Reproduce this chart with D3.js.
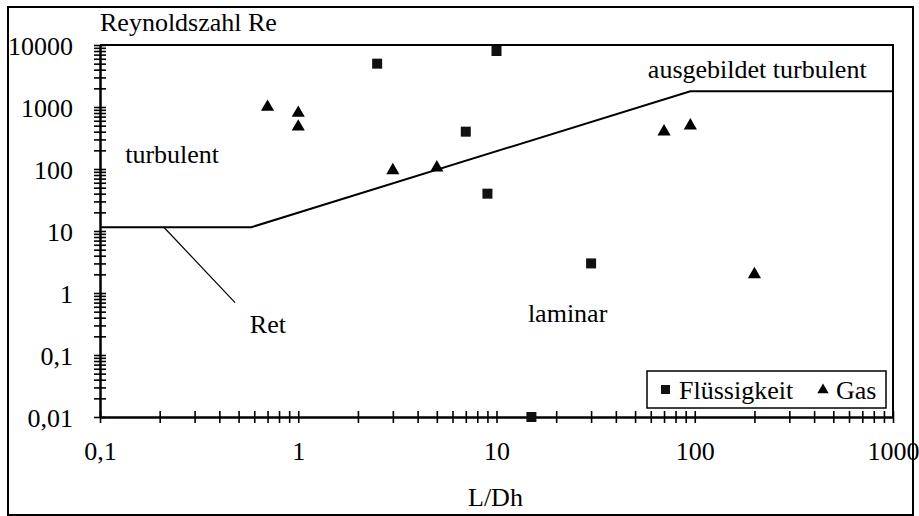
<!DOCTYPE html>
<html>
<head>
<meta charset="utf-8">
<script src="https://cdn.jsdelivr.net/npm/d3@7"></script>
<style>
 body { margin: 0; background: #fff; }
 text { font-family: "Liberation Serif", "Times New Roman", serif; fill: #000; }
</style>
</head>
<body>
<script>
const width = 919;
const height = 516;

// data
const fluessigkeit = [
 {x: 2.5, y: 5000},
 {x: 10, y: 8000},
 {x: 7, y: 400},
 {x: 9, y: 40},
 {x: 30, y: 3},
 {x: 15, y: 0.01}
];
const gas = [
 {x: 0.7, y: 1000},
 {x: 1, y: 800},
 {x: 1, y: 480},
 {x: 3, y: 95},
 {x: 5, y: 105},
 {x: 70, y: 400},
 {x: 95, y: 500},
 {x: 200, y: 2}
];
// boundary line Ret
const retLine = [
 {x: 0.1, y: 11.5},
 {x: 0.58, y: 11.5},
 {x: 95, y: 1800},
 {x: 1000, y: 1800}
];
// pointer from the "Ret" label to the line
const retPointer = [
 {x: 0.21, y: 11.5},
 {x: 0.48, y: 0.7}
];
const xTicks = [0.1, 1, 10, 100, 1000];
const xTickLabels = ["0,1", "1", "10", "100", "1000"];
const yTicks = [0.01, 0.1, 1, 10, 100, 1000, 10000];
const yTickLabels = ["0,01", "0,1", "1", "10", "100", "1000", "10000"];
const regionLabels = [
 {text: "turbulent", x: 0.134, y: 125},
 {text: "ausgebildet turbulent", x: 58, y: 2900},
 {text: "laminar", x: 14.4, y: 0.34},
 {text: "Ret", x: 0.57, y: 0.23}
];

const fontSize = 26;
const mLeft = 100, mRight = 893, mTop = 45, mBottom = 417;

const x = d3.scaleLog().domain([0.1, 1000]).range([mLeft, mRight]);
const y = d3.scaleLog().domain([0.01, 10000]).range([mBottom, mTop]);

// minor ticks 1..9 in every decade
function decadeTicks(lo, hi)
{
 let t = [];
 for (let e = Math.log10(lo); e < Math.log10(hi); e++)
   for (let m = 1; m < 10; m++)
     t.push(+(m * Math.pow(10, e)).toPrecision(3));
 t.push(hi);
 return t;
}

const svg = d3.select("body")
	.append("svg")
		.attr("width", width)
		.attr("height", height);

// outer frame
svg.append("rect")
	.attr("x", 8).attr("y", 7)
	.attr("width", 905).attr("height", 508)
	.attr("fill", "none")
	.attr("stroke", "#000")
	.attr("stroke-width", 2);

// plot border (top & right)
svg.append("path")
	.attr("d", `M${mLeft},${mTop}H${mRight}V${mBottom}`)
	.attr("fill", "none")
	.attr("stroke", "#000")
	.attr("stroke-width", 2);

// y axis, ticks cross the axis
const yAxis = svg.append("g")
	.attr("transform", `translate(${mLeft},0)`)
	.call(d3.axisLeft(y).tickValues(decadeTicks(0.01, 10000)).tickSize(6).tickSizeOuter(0)
		.tickPadding(21)
		.tickFormat(d => { const i = yTicks.indexOf(d); return i < 0 ? "" : yTickLabels[i]; }));
yAxis.selectAll(".tick line").attr("x1", 6).attr("stroke-width", 1.6);
yAxis.select(".domain").attr("stroke-width", 2.5);
yAxis.selectAll("text").attr("font-size", fontSize).attr("font-family", null).attr("dy", "0.35em");

// x axis
const xAxis = svg.append("g")
	.attr("transform", `translate(0,${mBottom})`)
	.call(d3.axisBottom(x).tickValues(decadeTicks(0.1, 1000)).tickSize(6).tickSizeOuter(0)
		.tickPadding(19)
		.tickFormat(d => { const i = xTicks.indexOf(d); return i < 0 ? "" : xTickLabels[i]; }));
xAxis.selectAll(".tick line").attr("y1", -6).attr("stroke-width", 1.6);
xAxis.select(".domain").attr("stroke-width", 2.5);
xAxis.selectAll("text").attr("font-size", fontSize).attr("font-family", null);

// axis titles
svg.append("text")
	.attr("x", mLeft).attr("y", 31)
	.attr("font-size", fontSize)
	.text("Reynoldszahl Re");
svg.append("text")
	.attr("x", 468).attr("y", 506)
	.attr("font-size", fontSize)
	.text("L/Dh");

const line = d3.line().x(d => x(d.x)).y(d => y(d.y));

svg.append("path")
	.datum(retLine)
	.attr("d", line)
	.attr("fill", "none")
	.attr("stroke", "#000")
	.attr("stroke-width", 2);

svg.append("path")
	.datum(retPointer)
	.attr("d", line)
	.attr("fill", "none")
	.attr("stroke", "#000")
	.attr("stroke-width", 1.2);

// region labels
svg.append("g")
	.selectAll("text")
		.data(regionLabels)
			.join("text")
				.attr("x", d => x(d.x))
				.attr("y", d => y(d.y))
				.attr("font-size", fontSize)
				.text(d => d.text);

// markers
const sq = 10;
svg.append("g")
	.selectAll("rect")
		.data(fluessigkeit)
			.join("rect")
				.attr("x", d => x(d.x) - sq / 2)
				.attr("y", d => y(d.y) - sq / 2)
				.attr("width", sq)
				.attr("height", sq)
				.attr("fill", "#111");

const tri = d3.symbol().type(d3.symbolTriangle).size(75);
svg.append("g")
	.selectAll("path")
		.data(gas)
			.join("path")
				.attr("transform", d => `translate(${x(d.x)},${y(d.y)})`)
				.attr("d", tri)
				.attr("fill", "#000");

// legend
const lg = svg.append("g").attr("transform", "translate(647,371)");
lg.append("rect")
	.attr("width", 239).attr("height", 37)
	.attr("fill", "#fff")
	.attr("stroke", "#000")
	.attr("stroke-width", 1.5);
lg.append("rect")
	.attr("x", 14).attr("y", 14).attr("width", 9).attr("height", 9)
	.attr("fill", "#111");
lg.append("text")
	.attr("x", 32).attr("y", 28)
	.attr("font-size", fontSize)
	.text("Flüssigkeit");
lg.append("path")
	.attr("transform", "translate(176,19)")
	.attr("d", d3.symbol().type(d3.symbolTriangle).size(55))
	.attr("fill", "#000");
lg.append("text")
	.attr("x", 189).attr("y", 28)
	.attr("font-size", fontSize)
	.text("Gas");
</script>
</body>
</html>
